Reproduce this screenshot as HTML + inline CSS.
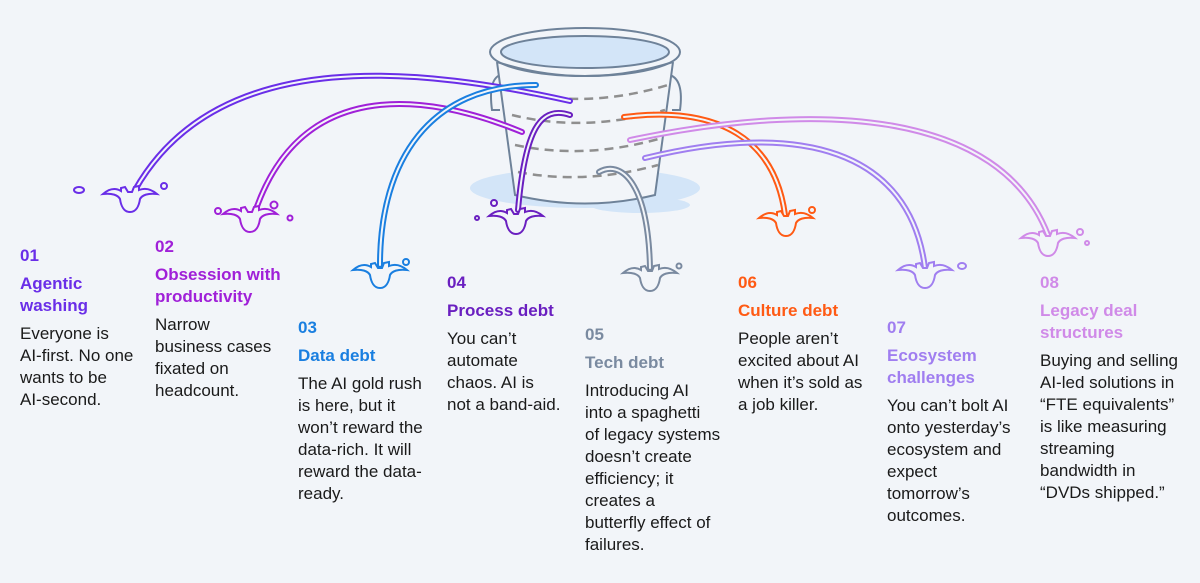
<!DOCTYPE html>
<html><head><meta charset="utf-8"><style>
body{margin:0;width:1200px;height:583px;background:#f2f5f9;font-family:"Liberation Sans",Arial,sans-serif;position:relative;overflow:hidden}
.c{position:absolute;font-size:17px;line-height:22px;color:#1a1a1a}
.n{font-weight:bold;font-size:17px;margin-bottom:6px}
.t{font-weight:bold;font-size:17px;margin-bottom:6px}
svg{position:absolute;left:0;top:0}
</style></head><body>
<svg width="1200" height="583" viewBox="0 0 1200 583">
<defs>
<path id="sp" d="M-27,-2 C-18,-3 -12,-1 -10,3 C-9,10 -6,16 0,16 C6,16 9,10 10,3 C12,-1 18,-3 27,-2 C20,-8 14,-8 9,-6 L9,-10 L4,-9 L2,-4 L-2,-4 L-5,-9 L-9,-8 L-9,-5 C-14,-8 -20,-8 -27,-2Z"/>
</defs>
<ellipse cx="585" cy="188" rx="115" ry="20" fill="#d3e5f8"/>
<ellipse cx="640" cy="205" rx="50" ry="8" fill="#d3e5f8"/>
<g fill="none" stroke="#6e8299" stroke-width="2">
<path d="M500,75 Q488,80 492,110 L500,110"/>
<path d="M670,75 Q684,80 680,110 L672,110"/>
<path d="M497,62 L515,195 Q585,212 655,195 L673,62" fill="#f2f5f9"/>
<ellipse cx="585" cy="52" rx="95" ry="24" fill="#f2f5f9"/>
<ellipse cx="585" cy="52" rx="84" ry="16" fill="#d3e5f8"/>
<path d="M497,62 Q585,90 673,62"/>
</g>
<g fill="none" stroke="#8f8f8f" stroke-width="2.5" stroke-dasharray="9 6">
<path d="M510,90 Q585,110 668,85"/>
<path d="M512,115 Q585,133 665,110"/>
<path d="M515,145 Q585,160 662,138"/>
<path d="M518,172 Q585,185 658,165"/>
</g>
<g fill="none" stroke-linecap="round">
<g stroke="#6a2ee8"><path stroke-width="6" d="M570,101 C430,70 220,40 135,190"/><path stroke-width="2" stroke="#f2f5f9" d="M570,101 C430,70 220,40 135,190"/></g>
<g stroke="#a020d8"><path stroke-width="6" d="M522,132 C420,90 300,80 255,212"/><path stroke-width="2" stroke="#f2f5f9" d="M522,132 C420,90 300,80 255,212"/></g>
<g stroke="#1a7fe0"><path stroke-width="6" d="M536,85 C430,85 380,160 380,265"/><path stroke-width="2" stroke="#f2f5f9" d="M536,85 C430,85 380,160 380,265"/></g>
<g stroke="#6a1fc0"><path stroke-width="6" d="M570,115 C540,105 525,130 518,210"/><path stroke-width="2" stroke="#f2f5f9" d="M570,115 C540,105 525,130 518,210"/></g>
<g stroke="#7a8aa0"><path stroke-width="6" d="M599,172 C620,160 648,180 650,268"/><path stroke-width="2" stroke="#f2f5f9" d="M599,172 C620,160 648,180 650,268"/></g>
<g stroke="#ff5a14"><path stroke-width="6" d="M624,117 C720,105 775,140 785,215"/><path stroke-width="2" stroke="#f2f5f9" d="M624,117 C720,105 775,140 785,215"/></g>
<g stroke="#a07ef0"><path stroke-width="6" d="M645,158 C800,120 910,150 925,268"/><path stroke-width="2" stroke="#f2f5f9" d="M645,158 C800,120 910,150 925,268"/></g>
<g stroke="#d08ae8"><path stroke-width="6" d="M630,140 C820,100 1000,110 1048,235"/><path stroke-width="2" stroke="#f2f5f9" d="M630,140 C820,100 1000,110 1048,235"/></g>
</g>
<g fill="#f2f5f9" stroke-width="2">
<use href="#sp" x="130" y="196" stroke="#6a2ee8"/><ellipse cx="79" cy="190" rx="5" ry="3" fill="none" stroke="#6a2ee8"/><circle cx="164" cy="186" r="3" fill="none" stroke="#6a2ee8"/>
<use href="#sp" x="250" y="216" stroke="#a020d8"/><circle cx="218" cy="211" r="3" fill="none" stroke="#a020d8"/><circle cx="274" cy="205" r="3.5" fill="none" stroke="#a020d8"/><circle cx="290" cy="218" r="2.5" fill="none" stroke="#a020d8"/>
<use href="#sp" x="380" y="272" stroke="#1a7fe0"/><circle cx="406" cy="262" r="3" fill="none" stroke="#1a7fe0"/>
<use href="#sp" x="516" y="218" stroke="#6a1fc0"/><circle cx="494" cy="203" r="3" fill="none" stroke="#6a1fc0"/><circle cx="477" cy="218" r="2" fill="none" stroke="#6a1fc0"/>
<use href="#sp" x="650" y="275" stroke="#7a8aa0"/><circle cx="679" cy="266" r="2.5" fill="none" stroke="#7a8aa0"/>
<use href="#sp" x="786" y="220" stroke="#ff5a14"/><circle cx="812" cy="210" r="3" fill="none" stroke="#ff5a14"/>
<use href="#sp" x="925" y="272" stroke="#a07ef0"/><ellipse cx="962" cy="266" rx="4" ry="3" fill="none" stroke="#a07ef0"/>
<use href="#sp" x="1048" y="240" stroke="#d08ae8"/><circle cx="1080" cy="232" r="3" fill="none" stroke="#d08ae8"/><circle cx="1087" cy="243" r="2" fill="none" stroke="#d08ae8"/>
</g>
</svg>
<div class="c" style="left:20px;top:245px;width:125px"><div class="n" style="color:#6a2ee8">01</div><div class="t" style="color:#6a2ee8">Agentic<br>washing</div>Everyone is<br>AI-first. No one<br>wants to be<br>AI-second.</div>
<div class="c" style="left:155px;top:236px;width:145px"><div class="n" style="color:#a020d8">02</div><div class="t" style="color:#a020d8">Obsession with<br>productivity</div>Narrow<br>business cases<br>fixated on<br>headcount.</div>
<div class="c" style="left:298px;top:317px;width:140px"><div class="n" style="color:#1a7fe0">03</div><div class="t" style="color:#1a7fe0">Data debt</div>The AI gold rush<br>is here, but it<br>won’t reward the<br>data-rich. It will<br>reward the data-<br>ready.</div>
<div class="c" style="left:447px;top:272px;width:130px"><div class="n" style="color:#6a1fc0">04</div><div class="t" style="color:#6a1fc0">Process debt</div>You can’t<br>automate<br>chaos. AI is<br>not a band-aid.</div>
<div class="c" style="left:585px;top:324px;width:150px"><div class="n" style="color:#7a8aa0">05</div><div class="t" style="color:#7a8aa0">Tech debt</div>Introducing AI<br>into a spaghetti<br>of legacy systems<br>doesn’t create<br>efficiency; it<br>creates a<br>butterfly effect of<br>failures.</div>
<div class="c" style="left:738px;top:272px;width:145px"><div class="n" style="color:#ff5a14">06</div><div class="t" style="color:#ff5a14">Culture debt</div>People aren’t<br>excited about AI<br>when it’s sold as<br>a job killer.</div>
<div class="c" style="left:887px;top:317px;width:145px"><div class="n" style="color:#a07ef0">07</div><div class="t" style="color:#a07ef0">Ecosystem<br>challenges</div>You can’t bolt AI<br>onto yesterday’s<br>ecosystem and<br>expect<br>tomorrow’s<br>outcomes.</div>
<div class="c" style="left:1040px;top:272px;width:155px"><div class="n" style="color:#d08ae8">08</div><div class="t" style="color:#d08ae8">Legacy deal<br>structures</div>Buying and selling<br>AI-led solutions in<br>“FTE equivalents”<br>is like measuring<br>streaming<br>bandwidth in<br>“DVDs shipped.”</div>
</body></html>
